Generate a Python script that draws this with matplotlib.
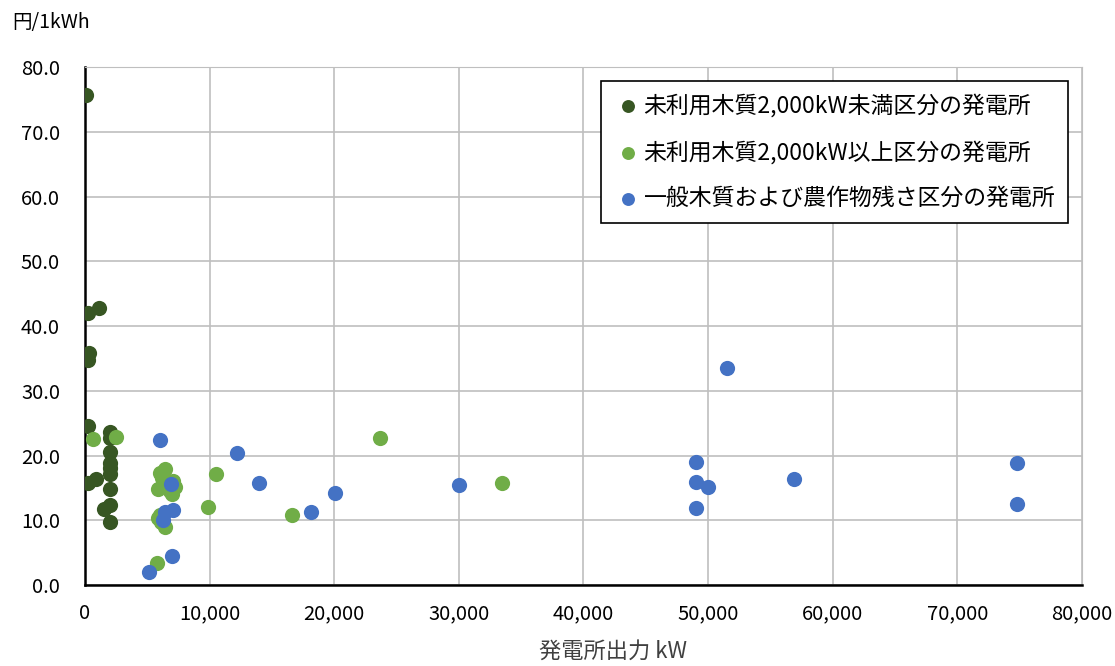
import matplotlib.pyplot as plt
from matplotlib.ticker import FuncFormatter, MultipleLocator

plt.rcParams['font.family'] = ['Noto Sans CJK JP', 'DejaVu Sans']

# 未利用木質2,000kW未満
small_x = [80, 240, 1120, 350, 250, 250, 2000, 2000, 2000, 2000, 2000, 2000,
           880, 240, 2000, 2000, 1520, 2000]
small_y = [75.7, 42.0, 42.8, 35.8, 34.7, 24.6, 23.6, 22.7, 20.6, 18.8, 18.0, 17.2,
           16.4, 15.7, 14.9, 12.4, 11.8, 9.8]

# 未利用木質2,000kW以上
large_x = [650, 2500, 6000, 6400, 5900, 6800, 7000, 7200, 7100, 6300, 6200,
           5900, 6000, 6100, 6400, 5800, 10500, 9900, 16600, 23700, 33500]
large_y = [22.5, 22.9, 17.3, 17.9, 14.8, 14.5, 14.0, 15.2, 16.0, 15.6, 16.5,
           10.3, 10.8, 9.8, 9.0, 3.4, 17.1, 12.1, 10.8, 22.7, 15.7]

# 一般木質および農作物残さ
gen_x = [6000, 6900, 6400, 7100, 6300, 7000, 5100, 12200, 14000, 18100, 20100,
         30000, 49000, 49000, 49000, 50000, 51500, 56900, 74800, 74800]
gen_y = [22.4, 15.6, 11.3, 11.6, 10.0, 4.5, 2.0, 20.4, 15.7, 11.2, 14.2,
         15.4, 19.0, 15.9, 11.9, 15.1, 33.5, 16.4, 18.8, 12.5]

labels = ['未利用木質2,000kW未満区分の発電所',
          '未利用木質2,000kW以上区分の発電所',
          '一般木質および農作物残さ区分の発電所']
colors = ['#375623', '#70AD47', '#4472C4']

fig = plt.figure(figsize=(11.15, 6.66), dpi=100)
ax = fig.add_axes([0.0762, 0.1216, 0.8942, 0.7778])

for xs, ys, lab, c in zip([small_x, large_x, gen_x], [small_y, large_y, gen_y], labels, colors):
    ax.scatter(xs, ys, s=120, color=c, label=lab, zorder=3, linewidths=0)

ax.set_xlim(0, 80000)
ax.set_ylim(0, 80)
ax.xaxis.set_major_locator(MultipleLocator(10000))
ax.yaxis.set_major_locator(MultipleLocator(10))
ax.xaxis.set_major_formatter(FuncFormatter(lambda v, p: f'{int(v):,}'))
ax.yaxis.set_major_formatter(FuncFormatter(lambda v, p: f'{v:.1f}'))
ax.grid(True, color='#BFBFBF', linewidth=1.2)
ax.set_axisbelow(True)
ax.tick_params(length=0, labelsize=14.5)
ax.tick_params(axis='y', pad=18)
ax.tick_params(axis='x', pad=13)
for s in ['top', 'right']:
    ax.spines[s].set_color('#BFBFBF')
for s in ['left', 'bottom']:
    ax.spines[s].set_color('black')
    ax.spines[s].set_linewidth(1.8)

leg = ax.legend(loc='upper right', bbox_to_anchor=(0.986, 0.973), fontsize=16.5,
                frameon=True, fancybox=False, edgecolor='black', framealpha=1,
                handletextpad=0.1, labelspacing=1.0, borderpad=0.55,
                borderaxespad=0, markerscale=0.85, handlelength=1.2)
leg.get_frame().set_linewidth(1.2)

fig.text(0.011, 0.966, '円/1kWh', fontsize=14, va='center')
fig.text(0.55, 0.022, '発電所出力 kW', fontsize=16, ha='center', va='center',
         color='#404040')

fig.savefig('out.png', dpi=100)
